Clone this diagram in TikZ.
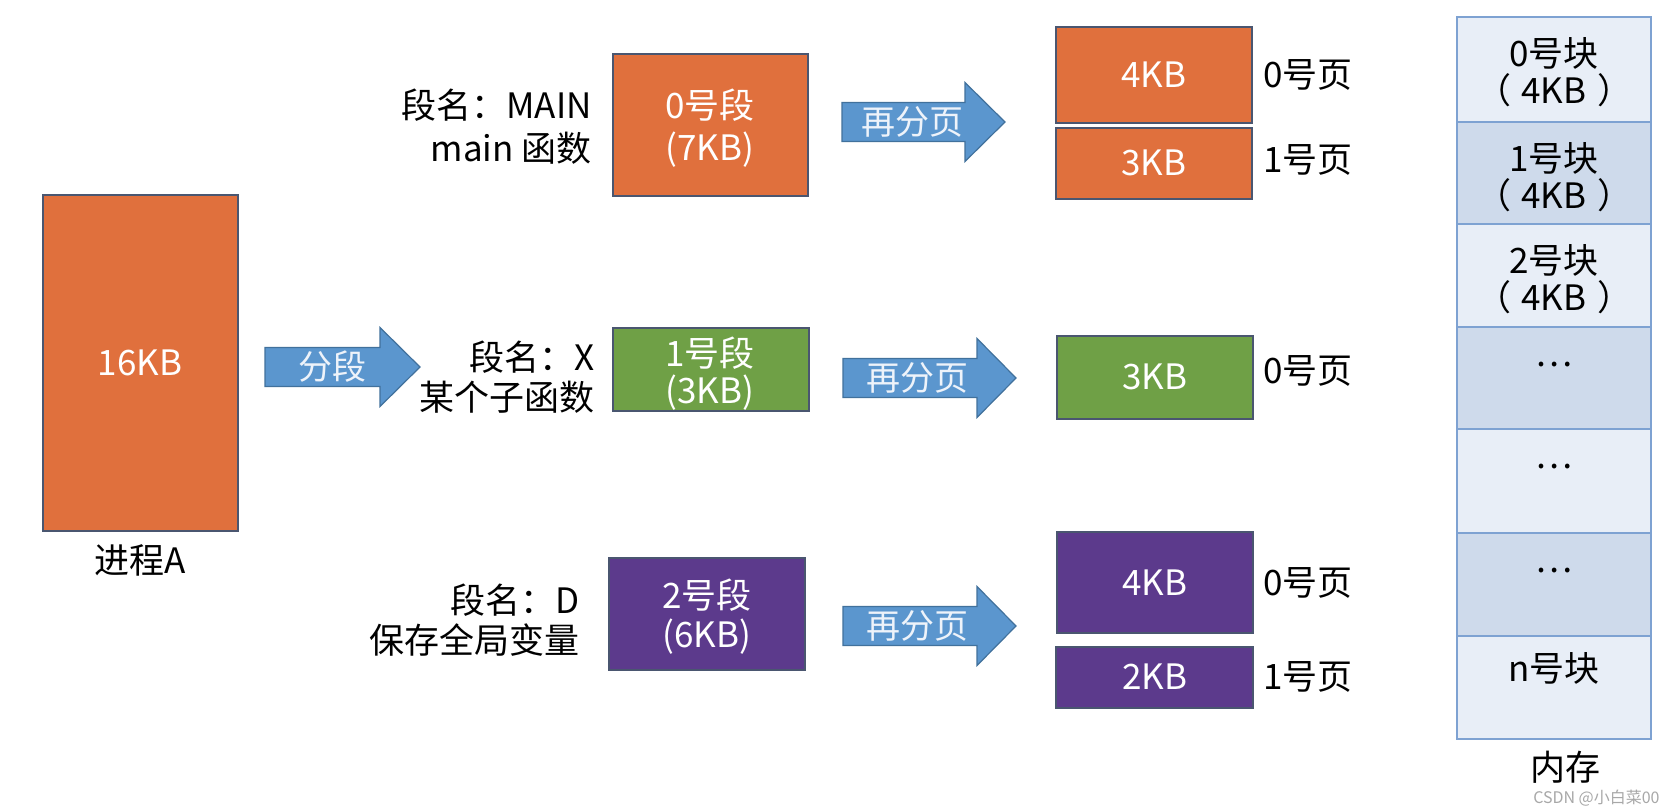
\documentclass[tikz,border=0pt]{standalone}
\usepackage{fontspec}
\setmainfont{Noto Sans CJK SC}
\definecolor{segorange}{HTML}{E0703D}
\definecolor{seggreen}{HTML}{6FA046}
\definecolor{segpurple}{HTML}{5C3A8C}
\definecolor{boxline}{HTML}{4A5670}
\definecolor{arrowfill}{HTML}{5B96CE}
\definecolor{arrowline}{HTML}{41719C}
\definecolor{arrowtext}{HTML}{EEF3FA}
\definecolor{memlight}{HTML}{E8EEF7}
\definecolor{memdark}{HTML}{CEDAEB}
\definecolor{memline}{HTML}{7EA2D2}
\definecolor{wmgray}{HTML}{A8A8A8}
\newcommand{\rectnode}[6]{\node[#2, minimum width={(#5-#3)*0.5pt}, minimum height={(#6-#4)*0.5pt}] (#1) at ({(#3+#5)/2},{(#4+#6)/2}) {};}
\newcommand{\blkarrow}[4]{\filldraw[fill=arrowfill, draw=arrowline, line width=0.6pt, line join=miter]
  (#1,#4-19.5) -- (#2,#4-19.5) -- (#2,#4-39.5) -- (#3,#4) -- (#2,#4+39.5) -- (#2,#4+19.5) -- (#1,#4+19.5) -- cycle;}
\newcommand{\fwkb}{（\hspace{0.3em}4KB\hspace{0.3em}）}
\tikzset{
  lbl/.style={font=\fontsize{17.5}{21}\selectfont, inner sep=0pt, text=black},
  wlbl/.style={lbl, text=white},
  arrtxt/.style={font=\fontsize{17}{20}\selectfont, inner sep=0pt, text=arrowtext},
  segbox/.style={draw=boxline, line width=0.7pt, inner sep=0pt, rectangle},
  memcell/.style={draw=memline, line width=1pt, inner sep=0pt, rectangle},
}
\begin{document}
\begin{tikzpicture}[x=0.5pt, y=-0.5pt]
\useasboundingbox[fill=white] (0,0) rectangle (1676,809);

% process A
\rectnode{procA}{segbox, fill=segorange}{43}{195}{238}{531}
\node[wlbl] (procAtxt) at (140,363) {16KB};
\node[lbl] (procAname) at (140,560) {进程A};

% segmentation arrow
\blkarrow{265}{380}{420}{367}
\node[arrtxt] (fenduan) at (332,367) {分段};

% segment 0
\rectnode{seg0}{segbox, fill=segorange}{613}{54}{808}{196}
\node[wlbl] (seg0a) at (710,105) {0号段};
\node[wlbl] (seg0b) at (710,150) {(7KB)};
\node[lbl, anchor=east] (seg0l1) at (592,105) {段名：MAIN};
\node[lbl, anchor=east] (seg0l2) at (592,148) {main 函数};

% segment 1
\rectnode{seg1}{segbox, fill=seggreen}{613}{328}{809}{411}
\node[wlbl] (seg1a) at (710,353) {1号段};
\node[wlbl] (seg1b) at (710,393) {(3KB)};
\node[lbl, anchor=east] (seg1l1) at (595,357) {段名：X};
\node[lbl, anchor=east] (seg1l2) at (595,397) {某个子函数};

% segment 2
\rectnode{seg2}{segbox, fill=segpurple}{609}{558}{805}{670}
\node[wlbl] (seg2a) at (707,595) {2号段};
\node[wlbl] (seg2b) at (707,637) {(6KB)};
\node[lbl, anchor=east] (seg2l1) at (580,600) {段名：D};
\node[lbl, anchor=east] (seg2l2) at (580,640) {保存全局变量};

% paging arrows
\blkarrow{842}{965}{1005}{122}
\node[arrtxt] (pg0) at (912,122) {再分页};
\blkarrow{843}{977}{1016}{378}
\node[arrtxt] (pg1) at (917,378) {再分页};
\blkarrow{843}{977}{1016}{626}
\node[arrtxt] (pg2) at (917,626) {再分页};

% pages
\rectnode{p00}{segbox, fill=segorange}{1056}{27}{1252}{123}
\node[wlbl] (p00t) at (1154,75) {4KB};
\node[lbl, anchor=west] (p00l) at (1263,75) {0号页};
\rectnode{p01}{segbox, fill=segorange}{1056}{128}{1252}{199}
\node[wlbl] (p01t) at (1154,163) {3KB};
\node[lbl, anchor=west] (p01l) at (1263,160) {1号页};

\rectnode{p10}{segbox, fill=seggreen}{1057}{336}{1253}{419}
\node[wlbl] (p10t) at (1155,377) {3KB};
\node[lbl, anchor=west] (p10l) at (1263,371) {0号页};

\rectnode{p20}{segbox, fill=segpurple}{1057}{532}{1253}{633}
\node[wlbl] (p20t) at (1155,583) {4KB};
\node[lbl, anchor=west] (p20l) at (1263,583) {0号页};
\rectnode{p21}{segbox, fill=segpurple}{1056}{647}{1253}{708}
\node[wlbl] (p21t) at (1155,677) {2KB};
\node[lbl, anchor=west] (p21l) at (1263,677) {1号页};

% memory
\rectnode{m0}{memcell, fill=memlight}{1457}{17}{1651}{122}
\rectnode{m1}{memcell, fill=memdark}{1457}{122}{1651}{224}
\rectnode{m2}{memcell, fill=memlight}{1457}{224}{1651}{327}
\rectnode{m3}{memcell, fill=memdark}{1457}{327}{1651}{429}
\rectnode{m4}{memcell, fill=memlight}{1457}{429}{1651}{533}
\rectnode{m5}{memcell, fill=memdark}{1457}{533}{1651}{636}
\rectnode{m6}{memcell, fill=memlight}{1457}{636}{1651}{739}
\node[lbl] (m0a) at (1554,53) {0号块};
\node[lbl] (m0b) at (1554,90) {\fwkb};
\node[lbl] (m1a) at (1554,158) {1号块};
\node[lbl] (m1b) at (1554,195) {\fwkb};
\node[lbl] (m2a) at (1554,260) {2号块};
\node[lbl] (m2b) at (1554,297) {\fwkb};
\node[lbl] (m3a) at (1554,365) {…};
\node[lbl] (m4a) at (1554,467) {…};
\node[lbl] (m5a) at (1554,571) {…};
\node[lbl] (m6a) at (1554,668) {n号块};
\node[lbl] (memname) at (1565,767) {内存};

% watermark
\node[font=\fontsize{8}{10}\selectfont, text=wmgray, inner sep=0pt, anchor=east] (wm) at (1660,798) {CSDN @小白菜00};
\end{tikzpicture}
\end{document}
